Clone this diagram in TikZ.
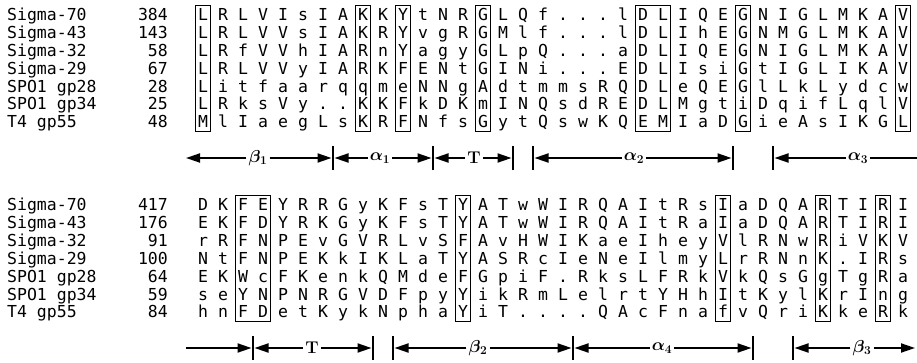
\documentclass[tikz,border=0pt]{standalone}
\usepackage{fontspec}
\newfontfamily\seqfont{DejaVu Sans Mono}
\usetikzlibrary{arrows.meta}
\tikzset{
  res/.style={font=\seqfont\fontsize{16.5}{16.5}\selectfont, inner sep=0pt, anchor=base},
  lab/.style={font=\seqfont\fontsize{16.5}{16.5}\selectfont, inner sep=0pt},
  colbox/.style={draw, line width=1.2pt},
  arr/.style={line width=1.9pt, -{Triangle[length=14pt,width=9pt]}},
  plainline/.style={line width=1.9pt},
  bar/.style={line width=1.4pt},
  sslab/.style={font=\boldmath\bfseries\fontsize{17}{17}\selectfont, inner sep=2pt}
}
% #1 id, #2 y centre, #3 name, #4 number, #5 residues
\newcommand\seqrow[5]{%
  \node[lab,anchor=base west] (n#1) at (7,#2+6) {#3};
  \node[lab,anchor=base east] (m#1) at (168,#2+6) {#4};
  \foreach \c [count=\i from 0] in {#5} {\node[res] (s#1-\i) at ({203+20*\i},#2+6) {\c};}%
}
% #1 top, #2 bottom, #3 first column, #4 last column
\newcommand\colbx[4]{\draw[colbox] ({203+20*#3-7.5},#1) rectangle ({203+20*#4+7.5},#2);}
% #1 name, #2 x, #3 y
\newcommand\sepbar[3]{\coordinate (#1) at (#2,#3);
  \draw[bar] ([yshift=12pt]#1) -- ([yshift=-12pt]#1);}
\begin{document}
\begin{tikzpicture}[x=1pt,y=-1pt]
\useasboundingbox (0,0) rectangle (917,363);
% ---------- block 1 ----------
\seqrow{a1}{15}{Sigma-70}{384}{L,R,L,V,I,s,I,A,K,K,Y,t,N,R,G,L,Q,f,.,.,.,l,D,L,I,Q,E,G,N,I,G,L,M,K,A,V}
\seqrow{a2}{32.8}{Sigma-43}{143}{L,R,L,V,V,s,I,A,K,R,Y,v,g,R,G,M,l,f,.,.,.,l,D,L,I,h,E,G,N,M,G,L,M,K,A,V}
\seqrow{a3}{50.6}{Sigma-32}{58}{L,R,f,V,V,h,I,A,R,n,Y,a,g,y,G,L,p,Q,.,.,.,a,D,L,I,Q,E,G,N,I,G,L,M,K,A,V}
\seqrow{a4}{68.4}{Sigma-29}{67}{L,R,L,V,V,y,I,A,R,K,F,E,N,t,G,I,N,i,.,.,.,E,D,L,I,s,i,G,t,I,G,L,I,K,A,V}
\seqrow{a5}{86.2}{SPO1 gp28}{28}{L,i,t,f,a,a,r,q,q,m,e,N,N,g,A,d,t,m,m,s,R,Q,D,L,e,Q,E,G,l,L,k,L,y,d,c,w}
\seqrow{a6}{104}{SPO1 gp34}{25}{L,R,k,s,V,y,.,.,K,K,F,k,D,K,m,I,N,Q,s,d,R,E,D,L,M,g,t,i,D,q,i,f,L,q,l,V}
\seqrow{a7}{121.8}{T4 gp55}{48}{M,l,I,a,e,g,L,s,K,R,F,N,f,s,G,y,t,Q,s,w,K,Q,E,M,I,a,D,G,i,e,A,s,I,K,G,L}
\colbx{5.5}{131.5}{0}{0}
\colbx{5.5}{131.5}{8}{8}
\colbx{5.5}{131.5}{10}{10}
\colbx{5.5}{131.5}{14}{14}
\colbx{5.5}{131.5}{22}{23}
\colbx{5.5}{131.5}{27}{27}
\colbx{5.5}{131.5}{35}{35}
% structure arrows 1
\def\ya{158}
\coordinate (b1l) at (186,\ya);
\node[sslab] (b1t) at (258,\ya) {$\beta_1$};
\coordinate (b1r) at (331.5,\ya);
\draw[arr] (b1t) -- (b1l);
\draw[arr] (b1t) -- (b1r);
\sepbar{k1}{333}{\ya}
\coordinate (h1l) at (334.5,\ya);
\node[sslab] (h1t) at (380,\ya) {$\alpha_1$};
\coordinate (h1r) at (431.5,\ya);
\draw[arr] (h1t) -- (h1l);
\draw[arr] (h1t) -- (h1r);
\sepbar{k2}{433}{\ya}
\coordinate (t1l) at (434.5,\ya);
\node[sslab] (t1t) at (474,\ya) {T};
\coordinate (t1r) at (511.5,\ya);
\draw[arr] (t1t) -- (t1l);
\draw[arr] (t1t) -- (t1r);
\sepbar{k3}{513}{\ya}
\sepbar{k4}{533}{\ya}
\coordinate (h2l) at (534.5,\ya);
\node[sslab] (h2t) at (634,\ya) {$\alpha_2$};
\coordinate (h2r) at (731.5,\ya);
\draw[arr] (h2t) -- (h2l);
\draw[arr] (h2t) -- (h2r);
\sepbar{k5}{733}{\ya}
\sepbar{k6}{773}{\ya}
\coordinate (h3l) at (774.5,\ya);
\node[sslab] (h3t) at (858,\ya) {$\alpha_3$};
\coordinate (h3r) at (917,\ya);
\draw[arr] (h3t) -- (h3l);
\draw[plainline] (h3t) -- (h3r);
% ---------- block 2 ----------
\seqrow{b1}{205}{Sigma-70}{417}{D,K,F,E,Y,R,R,G,y,K,F,s,T,Y,A,T,w,W,I,R,Q,A,I,t,R,s,I,a,D,Q,A,R,T,I,R,I}
\seqrow{b2}{222.8}{Sigma-43}{176}{E,K,F,D,Y,R,K,G,y,K,F,s,T,Y,A,T,w,W,I,R,Q,A,I,t,R,a,I,a,D,Q,A,R,T,I,R,I}
\seqrow{b3}{240.6}{Sigma-32}{91}{r,R,F,N,P,E,v,G,V,R,L,v,S,F,A,v,H,W,I,K,a,e,I,h,e,y,V,l,R,N,w,R,i,V,K,V}
\seqrow{b4}{258.4}{Sigma-29}{100}{N,t,F,N,P,E,K,k,I,K,L,a,T,Y,A,S,R,c,I,e,N,e,I,l,m,y,L,r,R,N,n,K,.,I,R,s}
\seqrow{b5}{276.2}{SPO1 gp28}{64}{E,K,W,c,F,K,e,n,k,Q,M,d,e,F,G,p,i,F,.,R,k,s,L,F,R,k,V,k,Q,s,G,g,T,g,R,a}
\seqrow{b6}{294}{SPO1 gp34}{59}{s,e,Y,N,P,N,R,G,V,D,F,p,y,Y,i,k,R,m,L,e,l,r,t,Y,H,h,I,t,K,y,l,K,r,I,n,g}
\seqrow{b7}{311.8}{T4 gp55}{84}{h,n,F,D,e,t,K,y,k,N,p,h,a,Y,i,T,.,.,.,.,Q,A,c,F,n,a,f,v,Q,r,i,K,k,e,R,k}
\colbx{195.5}{321.5}{2}{3}
\colbx{195.5}{321.5}{13}{13}
\colbx{195.5}{321.5}{26}{26}
\colbx{195.5}{321.5}{31}{31}
\colbx{195.5}{321.5}{34}{34}
% structure arrows 2
\def\yb{348}
\coordinate (c0) at (186,\yb);
\coordinate (c0r) at (251.5,\yb);
\draw[arr] (c0) -- (c0r);
\sepbar{q1}{253}{\yb}
\coordinate (t2l) at (254.5,\yb);
\node[sslab] (t2t) at (312,\yb) {T};
\coordinate (t2r) at (371.5,\yb);
\draw[arr] (t2t) -- (t2l);
\draw[arr] (t2t) -- (t2r);
\sepbar{q2}{373}{\yb}
\sepbar{q3}{393}{\yb}
\coordinate (e2l) at (394.5,\yb);
\node[sslab] (e2t) at (478,\yb) {$\beta_2$};
\coordinate (e2r) at (571.5,\yb);
\draw[arr] (e2t) -- (e2l);
\draw[arr] (e2t) -- (e2r);
\sepbar{q4}{573}{\yb}
\coordinate (h4l) at (574.5,\yb);
\node[sslab] (h4t) at (662,\yb) {$\alpha_4$};
\coordinate (h4r) at (751.5,\yb);
\draw[arr] (h4t) -- (h4l);
\draw[arr] (h4t) -- (h4r);
\sepbar{q5}{753}{\yb}
\sepbar{q6}{793}{\yb}
\coordinate (e3l) at (794.5,\yb);
\node[sslab] (e3t) at (862,\yb) {$\beta_3$};
\coordinate (e3r) at (915,\yb);
\draw[arr] (e3t) -- (e3l);
\draw[arr] (e3t) -- (e3r);
\end{tikzpicture}
\end{document}
